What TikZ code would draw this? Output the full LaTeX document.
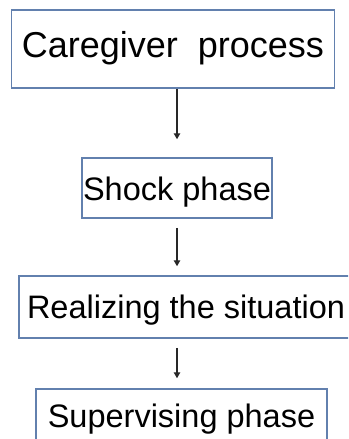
\documentclass[tikz,border=0pt]{standalone}
\usepackage{fontspec}
\setmainfont{Liberation Sans}
\usetikzlibrary{arrows.meta}
\definecolor{boxline}{RGB}{98,128,174}
\definecolor{arrowline}{RGB}{40,40,40}
\tikzset{
  stagebox/.style={draw=boxline, line width=1.5pt, fill=white, inner xsep=0pt, inner ysep=0pt, anchor=base},
  stagefont/.style={font=\fontsize{32.5}{38}\selectfont},
  titlefont/.style={font=\fontsize{36}{42}\selectfont},
  flowarrow/.style={draw=arrowline, line width=1.3pt, -{Triangle[width=6.5pt,length=6pt]}},
}
\begin{document}
\begin{tikzpicture}[x=1pt, y=-1pt]
  \useasboundingbox (0,0) rectangle (348,439);
  \clip (0,0) rectangle (348,439);
  % stages of the caregiver process, top to bottom
  \node[stagebox, titlefont, minimum width=323pt, text height=47pt, text depth=31pt] (b1) at (173,57)
    {Caregiver\hspace{10pt} process};
  \node[stagebox, stagefont, minimum width=190pt, text height=42pt, text depth=18pt] (b2) at (177,200) {Shock phase};
  \node[stagebox, stagefont, minimum width=334pt, text height=42pt, text depth=20pt] (b3) at (186,318) {Realizing the situation};
  \node[stagebox, stagefont, minimum width=291pt, text height=38pt, text depth=30pt] (b4) at (181.5,427) {Supervising phase};
  % connectors between the stages
  \draw[flowarrow, shorten >=18pt] (b1.south -| b2) -- (b2.north);
  \draw[flowarrow, shorten <=9pt, shorten >=9pt] (b2.south) -- (b3.north -| b2);
  \draw[flowarrow, shorten <=9pt, shorten >=10pt] (b3.south -| b2) -- (b4.north -| b2);
\end{tikzpicture}
\end{document}
